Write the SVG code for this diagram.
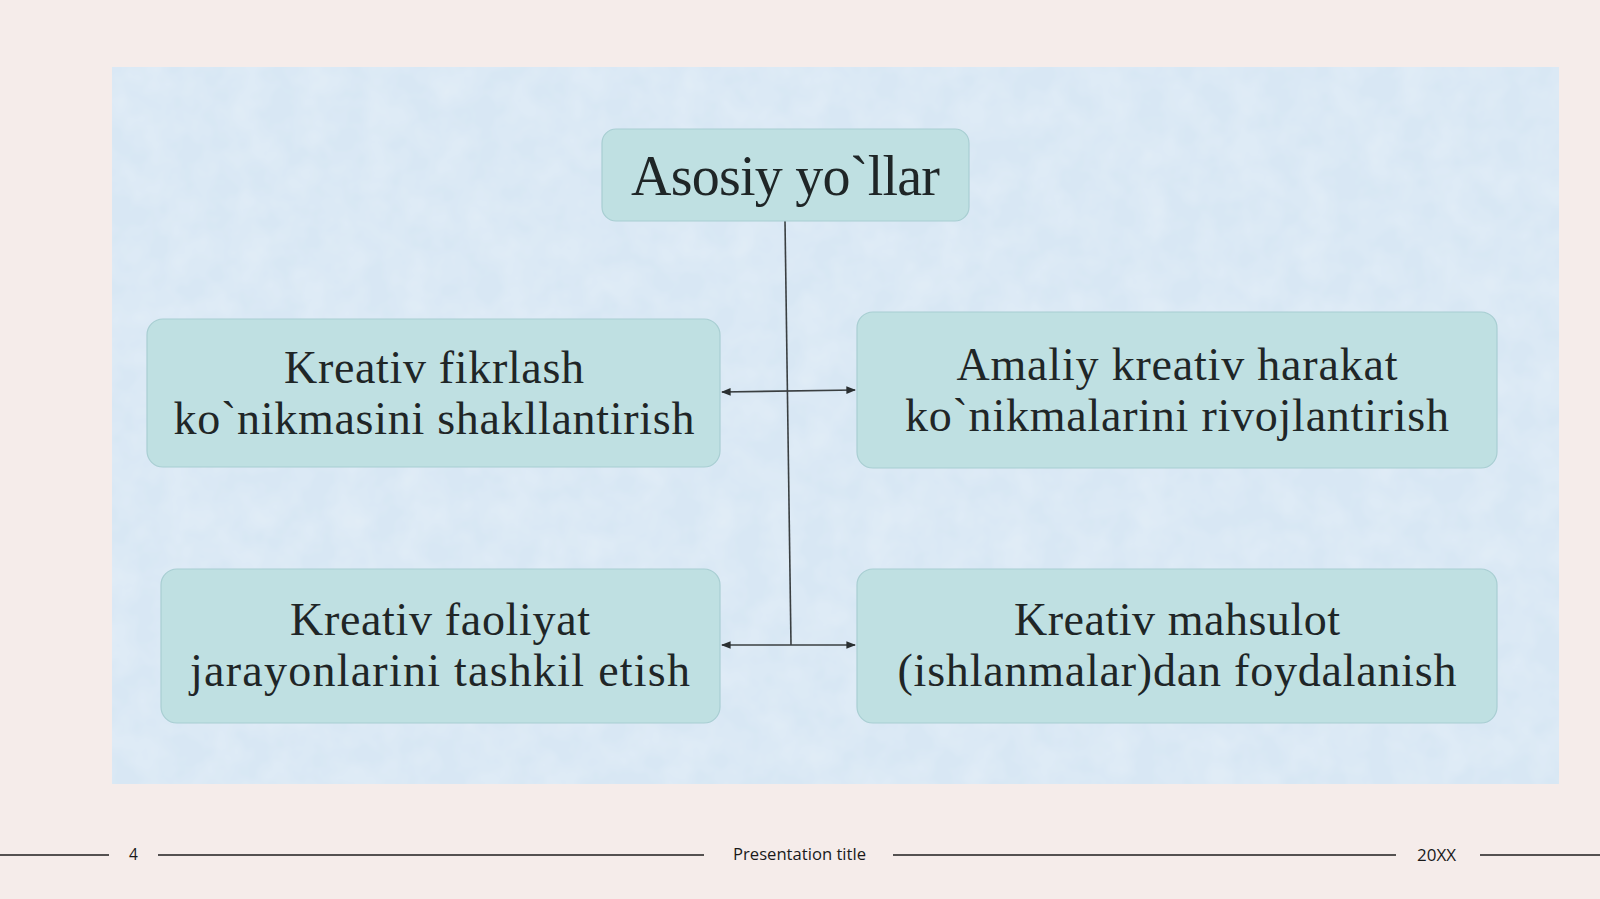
<svg xmlns="http://www.w3.org/2000/svg" width="1600" height="899" viewBox="0 0 1600 899">
  <defs>
    <style>
      .box { fill: #bfe0e2; stroke: #a8ced2; stroke-width: 1.2; }
      .t { font-family: "Liberation Serif", "Times New Roman", serif; font-size: 46px; fill: #1f2627; text-anchor: middle; }
      .title { font-size: 56px; }
      .conn { stroke: #3a3f41; stroke-width: 1.6; fill: none; }
      .foot { font-family: "Open Sans", "Noto Sans", sans-serif; font-size: 15.5px; fill: #1a1a1a; text-anchor: middle; }
      .fline { stroke: #1e1e1e; stroke-width: 1.6; }
    </style>
    <marker id="ah" viewBox="0 0 10 10" refX="9" refY="5" markerWidth="6" markerHeight="6" orient="auto-start-reverse">
      <path d="M0,1 L10,5 L0,9 z" fill="#2a2f31"/>
    </marker>
    <filter id="tex" x="0" y="0" width="100%" height="100%">
      <feTurbulence type="fractalNoise" baseFrequency="0.03" numOctaves="3" seed="4" result="n"/>
      <feColorMatrix in="n" type="matrix" values="0 0 0 0 1  0 0 0 0 1  0 0 0 0 1  0 0 0 0.35 -0.1" result="w"/>
      <feComposite in="w" in2="SourceGraphic" operator="in" result="wm"/>
      <feMerge><feMergeNode in="SourceGraphic"/><feMergeNode in="wm"/></feMerge>
    </filter>
  </defs>

  <rect x="0" y="0" width="1600" height="899" fill="#f5ecea"/>
  <rect id="panel" x="112" y="67" width="1447" height="717" fill="#d8e7f4" filter="url(#tex)"/>

  <g id="connectors">
    <line class="conn" x1="785" y1="221" x2="791" y2="645"/>
    <line class="conn" x1="722" y1="392" x2="855" y2="390" marker-start="url(#ah)" marker-end="url(#ah)"/>
    <line class="conn" x1="722" y1="645" x2="855" y2="645" marker-start="url(#ah)" marker-end="url(#ah)"/>
  </g>

  <g id="node-top">
    <rect class="box" x="602" y="129" width="367" height="92" rx="14"/>
    <text class="t title" x="785.5" y="195" textLength="309" lengthAdjust="spacing">Asosiy  yo`llar</text>
  </g>

  <g id="node-left1">
    <rect class="box" x="147" y="319" width="573" height="148" rx="16"/>
    <text class="t" x="434" y="383" textLength="300" lengthAdjust="spacing">Kreativ  fikrlash</text>
    <text class="t" x="434" y="434" textLength="521" lengthAdjust="spacing">ko`nikmasini  shakllantirish</text>
  </g>

  <g id="node-right1">
    <rect class="box" x="857" y="312" width="640" height="156" rx="16"/>
    <text class="t" x="1177" y="380" textLength="441" lengthAdjust="spacing">Amaliy  kreativ harakat</text>
    <text class="t" x="1177" y="431" textLength="544" lengthAdjust="spacing">ko`nikmalarini  rivojlantirish</text>
  </g>

  <g id="node-left2">
    <rect class="box" x="161" y="569" width="559" height="154" rx="16"/>
    <text class="t" x="440" y="635" textLength="300" lengthAdjust="spacing">Kreativ  faoliyat</text>
    <text class="t" x="440" y="686" textLength="500" lengthAdjust="spacing">jarayonlarini  tashkil etish</text>
  </g>

  <g id="node-right2">
    <rect class="box" x="857" y="569" width="640" height="154" rx="16"/>
    <text class="t" x="1177" y="635" textLength="326" lengthAdjust="spacing">Kreativ mahsulot</text>
    <text class="t" x="1177" y="686" textLength="559" lengthAdjust="spacing">(ishlanmalar)dan  foydalanish</text>
  </g>

  <g id="footer">
    <line class="fline" x1="0" y1="855" x2="109" y2="855"/>
    <line class="fline" x1="158" y1="855" x2="704" y2="855"/>
    <line class="fline" x1="893" y1="855" x2="1396" y2="855"/>
    <line class="fline" x1="1480" y1="855" x2="1600" y2="855"/>
    <text class="foot" x="133.5" y="860">4</text>
    <text class="foot" x="799.5" y="860" textLength="133" lengthAdjust="spacingAndGlyphs">Presentation title</text>
    <text class="foot" x="1436.5" y="861" textLength="39" lengthAdjust="spacingAndGlyphs">20XX</text>
  </g>
</svg>
